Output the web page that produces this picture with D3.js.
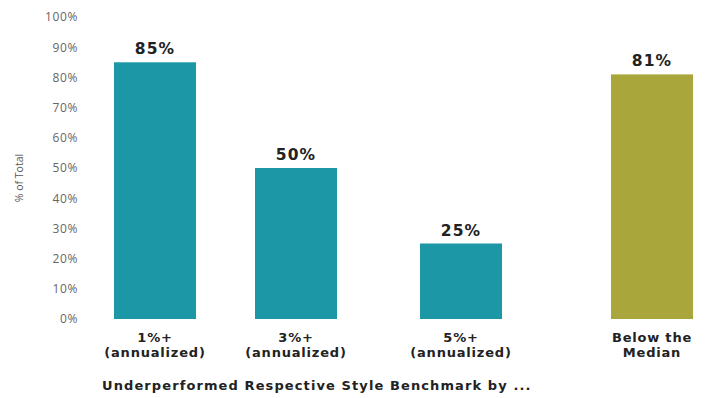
<!DOCTYPE html>
<html lang="en">
<head>
<meta charset="UTF-8">
<title>Underperformed Respective Style Benchmark</title>
<script src="https://cdn.jsdelivr.net/npm/d3@7"></script>
<style>
  body { margin: 0; background: #fff; }
  svg text { font-family: "DejaVu Sans", sans-serif; }
</style>
</head>
<body>
<svg id="chart" width="727" height="398"></svg>
<script>
// data
var categories = ['1%+|(annualized)', '3%+|(annualized)', '5%+|(annualized)', 'Below the|Median']
var values = [85, 50, 25, 81]
var groups = ['benchmark', 'benchmark', 'benchmark', 'median']
var yTicks = [0, 10, 20, 30, 40, 50, 60, 70, 80, 90, 100]

var svg = d3.select('#chart')
var color = d3.scaleOrdinal().domain(['benchmark', 'median']).range(['#1b97a5', '#a9a73b'])

// bars are not evenly spaced in the original
var x = d3.scaleOrdinal().domain(categories).range([155, 296, 461, 652])
var barW = 82
var y = d3.scaleLinear().domain([0, 100]).range([319, 17])

// y axis labels, no line
var yAxis = svg.append('g')
  .attr('transform', 'translate(78,0)')
  .call(d3.axisLeft(y).tickValues(yTicks).tickSize(0).tickPadding(0).tickFormat(function (d) { return d + '%' }))
yAxis.select('.domain').remove()
yAxis.selectAll('text')
  .attr('fill', '#666')
  .style('font-size', '12px')
  .style('letter-spacing', '0.6px')
  .style('font-family', '"Open Sans", sans-serif')

svg.append('text')
  .attr('transform', 'translate(23,' + (y(50) + 10) + ') rotate(-90)')
  .attr('text-anchor', 'middle')
  .attr('fill', '#555')
  .style('font-size', '10.5px')
  .style('font-family', '"Open Sans", sans-serif')
  .text('% of Total')

var bar = svg.selectAll('.bar').data(categories).enter().append('g').attr('class', 'bar')

bar.append('rect')
  .attr('x', function (d) { return x(d) - barW / 2 })
  .attr('y', function (d, i) { return y(values[i]) })
  .attr('width', barW)
  .attr('height', function (d, i) { return y(0) - y(values[i]) })
  .attr('fill', function (d, i) { return color(groups[i]) })

bar.append('text')
  .attr('x', function (d) { return x(d) })
  .attr('y', function (d, i) { return y(values[i]) - 8 })
  .attr('text-anchor', 'middle')
  .attr('fill', '#222')
  .style('font-size', '15.5px')
  .style('letter-spacing', '1.2px')
  .style('font-weight', 'bold')
  .text(function (d, i) { return values[i] + '%' })

// category labels, two lines each
bar.each(function (d) {
  var lines = d.split('|')
  var t = d3.select(this).append('text')
    .attr('text-anchor', 'middle')
    .attr('fill', '#222')
    .style('font-size', '13px')
    .style('letter-spacing', '0.8px')
    .style('font-weight', 'bold')
  lines.forEach(function (l, j) {
    t.append('tspan').attr('x', x(d)).attr('y', 342 + j * 15).text(l)
  })
})

svg.append('text')
  .attr('x', 102)
  .attr('y', 390)
  .attr('fill', '#222')
  .style('font-size', '13px')
  .style('letter-spacing', '1.1px')
  .style('font-weight', 'bold')
  .text('Underperformed Respective Style Benchmark by ...')
</script>
</body>
</html>
